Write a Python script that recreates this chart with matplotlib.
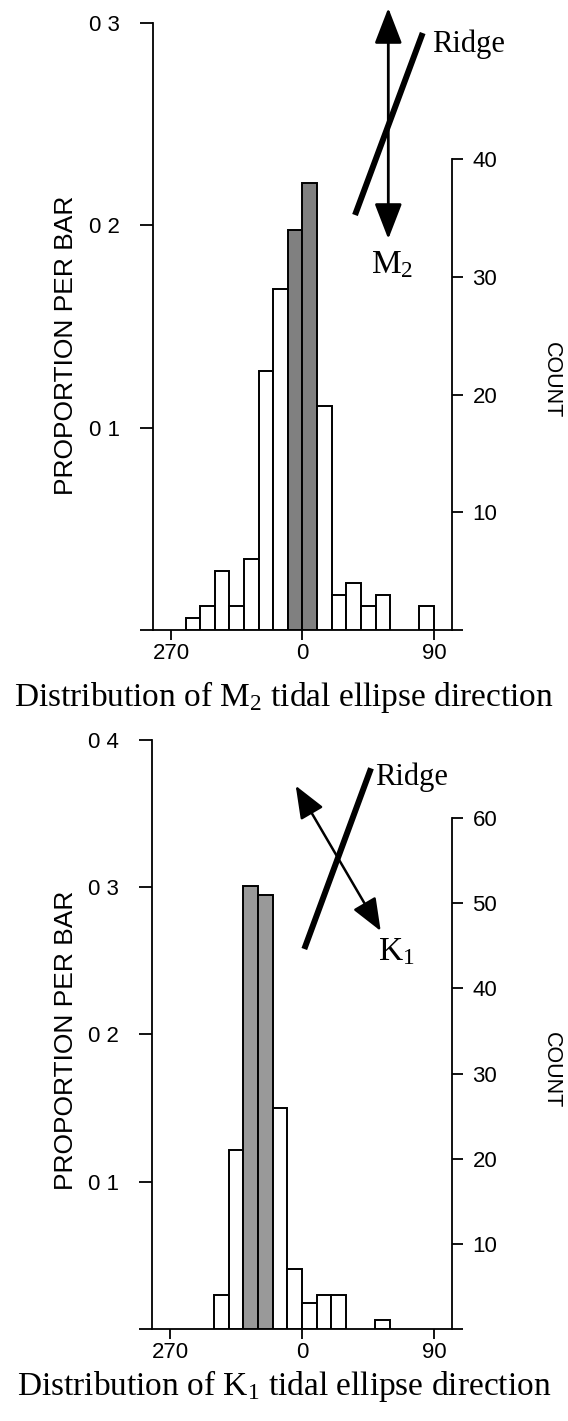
import matplotlib
matplotlib.use('Agg')
import matplotlib.pyplot as plt
from matplotlib.patches import FancyArrowPatch
from matplotlib.lines import Line2D

plt.rcParams['mathtext.fontset'] = 'custom'
plt.rcParams['mathtext.rm'] = 'Liberation Serif'
plt.rcParams['mathtext.it'] = 'Liberation Serif:italic'
plt.rcParams['font.family'] = ['Liberation Sans', 'DejaVu Sans']

# ---------------- data ----------------
bin_left = [-90, -80, -70, -60, -50, -40, -30, -20, -10, 0, 10, 20, 30, 40, 50, 60, 70, 80]
bin_width = 10
m2_counts = [0, 1, 2, 5, 2, 6, 22, 29, 34, 38, 19, 3, 4, 2, 3, 0, 0, 2]
m2_highlight = [-10, 0]
k1_counts = [0, 0, 0, 4, 21, 52, 51, 26, 7, 3, 4, 4, 0, 0, 1, 0, 0, 0]
k1_highlight = [-40, -30]

x_ticks = [-90, 0, 90]
x_ticklabels = ['270', '0', '90']
m2_prop_ticks = [0, 0.1, 0.2, 0.3]
m2_prop_labels = ['', '0 1', '0 2', '0 3']
m2_count_ticks = [0, 10, 20, 30, 40]
m2_count_labels = ['', '10', '20', '30', '40']
k1_prop_ticks = [0, 0.1, 0.2, 0.3, 0.4]
k1_prop_labels = ['', '0 1', '0 2', '0 3', '0 4']
k1_count_ticks = [0, 10, 20, 30, 40, 50, 60]
k1_count_labels = ['', '10', '20', '30', '40', '50', '60']

W, H = 568, 1421
fig = plt.figure(figsize=(W / 100, H / 100), dpi=100)


def fx(x):
    return x / W


def fy(y):
    return 1 - y / H


LW = 1.3
TICKFS = 16


def panel(rect_px, counts, highlight, gray, prop_max, pticks, plabels, cticks, clabels):
    l, t, r, b = rect_px
    ax = fig.add_axes([fx(l), fy(b), (r - l) / W, (b - t) / H])
    n = sum(counts)
    for xl, c in zip(bin_left, counts):
        if c == 0:
            continue
        fc = gray if xl in highlight else 'white'
        ax.bar(xl, c / n, width=bin_width, align='edge', facecolor=fc,
               edgecolor='black', linewidth=1.4, zorder=3)
    ax.set_xlim(-102.3, 102.1)
    ax.set_ylim(0, prop_max)
    for s in ['top', 'right']:
        ax.spines[s].set_visible(False)
    for s in ['left', 'bottom']:
        ax.spines[s].set_linewidth(LW)
    ax.set_xticks(x_ticks)
    ax.set_xticklabels(x_ticklabels)
    ax.set_yticks(pticks)
    ax.set_yticklabels(plabels)
    ax.tick_params(axis='x', direction='out', length=7.5, width=LW, pad=2, labelsize=TICKFS)
    ax.tick_params(axis='y', direction='out', length=9.5, width=LW, pad=14, labelsize=TICKFS)
    ax2 = ax.twinx()
    ax2.set_ylim(0, prop_max * n)
    for s in ['top', 'left', 'bottom']:
        ax2.spines[s].set_visible(False)
    ax2.spines['right'].set_linewidth(LW)
    ax2.spines['right'].set_bounds(0, cticks[-1])
    ax2.set_yticks(cticks)
    ax2.set_yticklabels(clabels)
    ax2.tick_params(axis='y', direction='out', length=8, width=LW, pad=7, labelsize=TICKFS)
    return ax, ax2


panel((153, 23, 451.7, 630), m2_counts, m2_highlight, '#808080', 0.3,
      m2_prop_ticks, m2_prop_labels, m2_count_ticks, m2_count_labels)
panel((152, 739.8, 451.7, 1329), k1_counts, k1_highlight, '#999999', 0.4,
      k1_prop_ticks, k1_prop_labels, k1_count_ticks, k1_count_labels)

# axis titles
fig.text(fx(66), fy(345), 'PROPORTION PER BAR', rotation=90, ha='center', va='center', fontsize=19)
fig.text(fx(551), fy(380), 'COUNT', rotation=270, ha='center', va='center', fontsize=15.5)
fig.text(fx(66), fy(1040), 'PROPORTION PER BAR', rotation=90, ha='center', va='center', fontsize=19)
fig.text(fx(551), fy(1070), 'COUNT', rotation=270, ha='center', va='center', fontsize=15.5)

# captions
fig.text(fx(284), fy(706), 'Distribution of M$_2$ tidal ellipse direction', ha='center', va='baseline',
         fontsize=24, family='Liberation Serif')
fig.text(fx(284), fy(1395), 'Distribution of K$_1$ tidal ellipse direction', ha='center', va='baseline',
         fontsize=24, family='Liberation Serif')


def seg(p0, p1, lw):
    fig.add_artist(Line2D([fx(p0[0]), fx(p1[0])], [fy(p0[1]), fy(p1[1])], transform=fig.transFigure,
                          color='black', linewidth=lw, solid_capstyle='butt'))


def darrow(p0, p1, lw, hl, hw):
    fig.add_artist(FancyArrowPatch((fx(p0[0]), fy(p0[1])), (fx(p1[0]), fy(p1[1])),
                                   transform=fig.transFigure,
                                   arrowstyle='<|-|>,head_length=%g,head_width=%g' % (hl, hw),
                                   mutation_scale=10, color='black', linewidth=lw,
                                   shrinkA=0, shrinkB=0))


# top annotation
darrow((388.3, 8), (388.3, 239), 2.0, 2.2, 0.85)
seg((355, 215), (422.7, 33), 4.3)
fig.text(fx(432), fy(52), 'Ridge', ha='left', va='baseline', fontsize=22, family='Liberation Serif')
fig.text(fx(371), fy(273), 'M$_2$', ha='left', va='baseline', fontsize=24, family='Liberation Serif')

# bottom annotation
darrow((295.7, 785.7), (380.7, 931), 1.8, 2.0, 0.8)
seg((304.3, 949), (371, 768.3), 4.3)
fig.text(fx(375), fy(785), 'Ridge', ha='left', va='baseline', fontsize=22, family='Liberation Serif')
fig.text(fx(378), fy(960), 'K$_1$', ha='left', va='baseline', fontsize=24, family='Liberation Serif')

fig.savefig('out.png', dpi=100)
